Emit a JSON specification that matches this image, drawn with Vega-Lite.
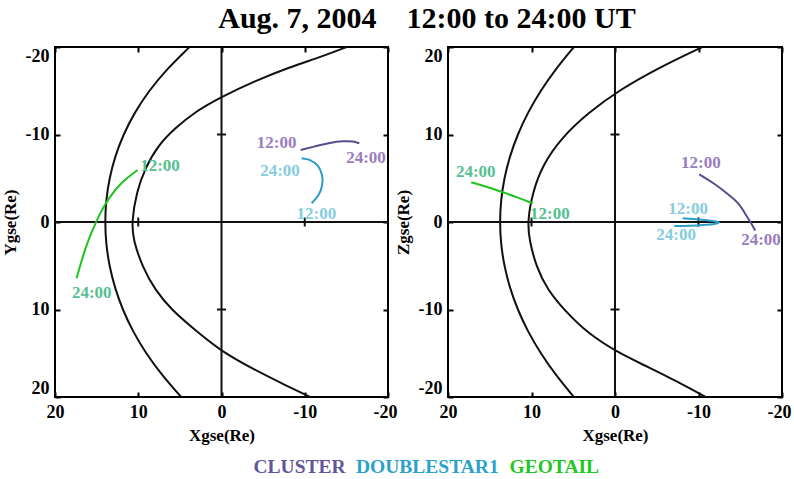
{
  "$schema": "https://vega.github.io/schema/vega-lite/v6.json",
  "padding": {"left": 0, "top": 4, "right": 0, "bottom": 2},
  "title": {"text": "Aug. 7, 2004\u00a0\u00a0\u00a0 12:00 to 24:00 UT", "anchor": "middle", "font": "Liberation Serif", "fontSize": 30, "fontWeight": "bold", "color": "#000", "dx": 31, "offset": 8},
  "bounds": "flush",
  "config": {
    "font": "Liberation Serif",
    "view": {"stroke": "#000", "strokeWidth": 2},
    "axis": {"labelFont": "Liberation Serif", "labelFontWeight": "bold", "labelFontSize": 18, "labelColor": "#000", "titleFont": "Liberation Serif", "titleFontWeight": "bold", "titleFontSize": 17, "titleColor": "#000", "grid": false, "domain": false, "tickColor": "#000", "tickWidth": 2, "tickSize": -5, "labelPadding": 11, "titlePadding": 6},
    "axisX": {"labelFlush": true, "labelFlushOffset": 9},
    "axisY": {"labelFlush": true},
    "legend": {"labelFont": "Liberation Serif", "labelFontWeight": "bold", "labelFontSize": 19.5},
    "concat": {"spacing": 60}
  },
  "datasets": {
    "curves": [
      {"panel": "XY", "curve": "bs", "i": 1, "x": 3.84, "v": -20},
      {"panel": "XY", "curve": "bs", "i": 2, "x": 6.54, "v": -17.5},
      {"panel": "XY", "curve": "bs", "i": 3, "x": 8.72, "v": -15},
      {"panel": "XY", "curve": "bs", "i": 4, "x": 10.45, "v": -12.5},
      {"panel": "XY", "curve": "bs", "i": 5, "x": 11.79, "v": -10},
      {"panel": "XY", "curve": "bs", "i": 6, "x": 12.79, "v": -7.5},
      {"panel": "XY", "curve": "bs", "i": 7, "x": 13.47, "v": -5},
      {"panel": "XY", "curve": "bs", "i": 8, "x": 13.87, "v": -2.5},
      {"panel": "XY", "curve": "bs", "i": 9, "x": 14.0, "v": 0},
      {"panel": "XY", "curve": "bs", "i": 10, "x": 13.87, "v": 2.5},
      {"panel": "XY", "curve": "bs", "i": 11, "x": 13.48, "v": 5},
      {"panel": "XY", "curve": "bs", "i": 12, "x": 12.82, "v": 7.5},
      {"panel": "XY", "curve": "bs", "i": 13, "x": 11.89, "v": 10},
      {"panel": "XY", "curve": "bs", "i": 14, "x": 10.65, "v": 12.5},
      {"panel": "XY", "curve": "bs", "i": 15, "x": 9.09, "v": 15},
      {"panel": "XY", "curve": "bs", "i": 16, "x": 7.16, "v": 17.5},
      {"panel": "XY", "curve": "bs", "i": 17, "x": 4.84, "v": 20},
      {"panel": "XY", "curve": "mp", "i": 1, "x": -15.03, "v": -20},
      {"panel": "XY", "curve": "mp", "i": 2, "x": -12.03, "v": -18.9},
      {"panel": "XY", "curve": "mp", "i": 3, "x": -8.03, "v": -17.64},
      {"panel": "XY", "curve": "mp", "i": 4, "x": -4.02, "v": -16.11},
      {"panel": "XY", "curve": "mp", "i": 5, "x": -0.02, "v": -14.32},
      {"panel": "XY", "curve": "mp", "i": 6, "x": 3.18, "v": -12.61},
      {"panel": "XY", "curve": "mp", "i": 7, "x": 5.59, "v": -10.7},
      {"panel": "XY", "curve": "mp", "i": 8, "x": 7.59, "v": -8.8},
      {"panel": "XY", "curve": "mp", "i": 9, "x": 9.19, "v": -6.13},
      {"panel": "XY", "curve": "mp", "i": 10, "x": 10.19, "v": -3.47},
      {"panel": "XY", "curve": "mp", "i": 11, "x": 10.8, "v": 0},
      {"panel": "XY", "curve": "mp", "i": 12, "x": 10.6, "v": 2.06},
      {"panel": "XY", "curve": "mp", "i": 13, "x": 9.51, "v": 5.1},
      {"panel": "XY", "curve": "mp", "i": 14, "x": 7.99, "v": 7.77},
      {"panel": "XY", "curve": "mp", "i": 15, "x": 5.99, "v": 10.06},
      {"panel": "XY", "curve": "mp", "i": 16, "x": 3.18, "v": 12.34},
      {"panel": "XY", "curve": "mp", "i": 17, "x": -0.02, "v": 14.82},
      {"panel": "XY", "curve": "mp", "i": 18, "x": -4.02, "v": 16.91},
      {"panel": "XY", "curve": "mp", "i": 19, "x": -7.23, "v": 18.44},
      {"panel": "XY", "curve": "mp", "i": 20, "x": -10.63, "v": 20},
      {"panel": "XZ", "curve": "bs", "i": 1, "x": 4.92, "v": 20},
      {"panel": "XZ", "curve": "bs", "i": 2, "x": 7.09, "v": 17.5},
      {"panel": "XZ", "curve": "bs", "i": 3, "x": 8.92, "v": 15},
      {"panel": "XZ", "curve": "bs", "i": 4, "x": 10.45, "v": 12.5},
      {"panel": "XZ", "curve": "bs", "i": 5, "x": 11.67, "v": 10},
      {"panel": "XZ", "curve": "bs", "i": 6, "x": 12.61, "v": 7.5},
      {"panel": "XZ", "curve": "bs", "i": 7, "x": 13.27, "v": 5},
      {"panel": "XZ", "curve": "bs", "i": 8, "x": 13.67, "v": 2.5},
      {"panel": "XZ", "curve": "bs", "i": 9, "x": 13.8, "v": 0},
      {"panel": "XZ", "curve": "bs", "i": 10, "x": 13.67, "v": -2.5},
      {"panel": "XZ", "curve": "bs", "i": 11, "x": 13.27, "v": -5},
      {"panel": "XZ", "curve": "bs", "i": 12, "x": 12.61, "v": -7.5},
      {"panel": "XZ", "curve": "bs", "i": 13, "x": 11.67, "v": -10},
      {"panel": "XZ", "curve": "bs", "i": 14, "x": 10.45, "v": -12.5},
      {"panel": "XZ", "curve": "bs", "i": 15, "x": 8.92, "v": -15},
      {"panel": "XZ", "curve": "bs", "i": 16, "x": 7.09, "v": -17.5},
      {"panel": "XZ", "curve": "bs", "i": 17, "x": 4.92, "v": -20},
      {"panel": "XZ", "curve": "mp", "i": 1, "x": -10.45, "v": 20},
      {"panel": "XZ", "curve": "mp", "i": 2, "x": -5.47, "v": 17.75},
      {"panel": "XZ", "curve": "mp", "i": 3, "x": -0.5, "v": 15.09},
      {"panel": "XZ", "curve": "mp", "i": 4, "x": 3.28, "v": 12.42},
      {"panel": "XZ", "curve": "mp", "i": 5, "x": 6.47, "v": 9.56},
      {"panel": "XZ", "curve": "mp", "i": 6, "x": 8.66, "v": 6.51},
      {"panel": "XZ", "curve": "mp", "i": 7, "x": 9.85, "v": 3.47},
      {"panel": "XZ", "curve": "mp", "i": 8, "x": 10.5, "v": 0},
      {"panel": "XZ", "curve": "mp", "i": 9, "x": 10.25, "v": -2.06},
      {"panel": "XZ", "curve": "mp", "i": 10, "x": 9.45, "v": -5.1},
      {"panel": "XZ", "curve": "mp", "i": 11, "x": 8.06, "v": -7.77},
      {"panel": "XZ", "curve": "mp", "i": 12, "x": 6.07, "v": -10.06},
      {"panel": "XZ", "curve": "mp", "i": 13, "x": 3.28, "v": -12.72},
      {"panel": "XZ", "curve": "mp", "i": 14, "x": -0.5, "v": -15.01},
      {"panel": "XZ", "curve": "mp", "i": 15, "x": -3.88, "v": -16.53},
      {"panel": "XZ", "curve": "mp", "i": 16, "x": -7.46, "v": -18.25},
      {"panel": "XZ", "curve": "mp", "i": 17, "x": -10.85, "v": -20}
    ],
    "orbits": [
      {"panel": "XY", "sat": "GEOTAIL", "seq": 1, "x": 10.07, "v": -5.94},
      {"panel": "XY", "sat": "GEOTAIL", "seq": 2, "x": 11.99, "v": -4.61},
      {"panel": "XY", "sat": "GEOTAIL", "seq": 3, "x": 13.59, "v": -2.7},
      {"panel": "XY", "sat": "GEOTAIL", "seq": 4, "x": 14.59, "v": -0.99},
      {"panel": "XY", "sat": "GEOTAIL", "seq": 5, "x": 15.25, "v": 0.4},
      {"panel": "XY", "sat": "GEOTAIL", "seq": 6, "x": 16.0, "v": 2.06},
      {"panel": "XY", "sat": "GEOTAIL", "seq": 7, "x": 16.8, "v": 4.34},
      {"panel": "XY", "sat": "GEOTAIL", "seq": 8, "x": 17.4, "v": 6.44},
      {"panel": "XY", "sat": "CLUSTER", "seq": 1, "x": -9.51, "v": -8.23},
      {"panel": "XY", "sat": "CLUSTER", "seq": 2, "x": -11.43, "v": -8.69},
      {"panel": "XY", "sat": "CLUSTER", "seq": 3, "x": -13.03, "v": -9.06},
      {"panel": "XY", "sat": "CLUSTER", "seq": 4, "x": -14.63, "v": -9.26},
      {"panel": "XY", "sat": "CLUSTER", "seq": 5, "x": -15.83, "v": -9.22},
      {"panel": "XY", "sat": "CLUSTER", "seq": 6, "x": -16.55, "v": -9.0},
      {"panel": "XY", "sat": "DOUBLESTAR1", "seq": 1, "x": -10.83, "v": -2.14},
      {"panel": "XY", "sat": "DOUBLESTAR1", "seq": 2, "x": -11.75, "v": -3.09},
      {"panel": "XY", "sat": "DOUBLESTAR1", "seq": 3, "x": -12.16, "v": -4.23},
      {"panel": "XY", "sat": "DOUBLESTAR1", "seq": 4, "x": -12.16, "v": -5.37},
      {"panel": "XY", "sat": "DOUBLESTAR1", "seq": 5, "x": -11.63, "v": -6.51},
      {"panel": "XY", "sat": "DOUBLESTAR1", "seq": 6, "x": -10.63, "v": -7.17},
      {"panel": "XY", "sat": "DOUBLESTAR1", "seq": 7, "x": -9.63, "v": -7.28},
      {"panel": "XZ", "sat": "GEOTAIL", "seq": 1, "x": 9.85, "v": 2.14},
      {"panel": "XZ", "sat": "GEOTAIL", "seq": 2, "x": 11.7, "v": 2.83},
      {"panel": "XZ", "sat": "GEOTAIL", "seq": 3, "x": 13.63, "v": 3.46},
      {"panel": "XZ", "sat": "GEOTAIL", "seq": 4, "x": 15.4, "v": 4.03},
      {"panel": "XZ", "sat": "GEOTAIL", "seq": 5, "x": 17.22, "v": 4.54},
      {"panel": "XZ", "sat": "CLUSTER", "seq": 1, "x": -10.09, "v": 5.45},
      {"panel": "XZ", "sat": "CLUSTER", "seq": 2, "x": -11.88, "v": 4.42},
      {"panel": "XZ", "sat": "CLUSTER", "seq": 3, "x": -13.67, "v": 3.09},
      {"panel": "XZ", "sat": "CLUSTER", "seq": 4, "x": -14.87, "v": 2.14},
      {"panel": "XZ", "sat": "CLUSTER", "seq": 5, "x": -15.67, "v": 0.8},
      {"panel": "XZ", "sat": "CLUSTER", "seq": 6, "x": -16.45, "v": -0.34},
      {"panel": "XZ", "sat": "CLUSTER", "seq": 7, "x": -16.78, "v": -0.99},
      {"panel": "XZ", "sat": "DOUBLESTAR1", "seq": 1, "x": -8.1, "v": 0.42},
      {"panel": "XZ", "sat": "DOUBLESTAR1", "seq": 2, "x": -10.09, "v": 0.29},
      {"panel": "XZ", "sat": "DOUBLESTAR1", "seq": 3, "x": -11.88, "v": 0.11},
      {"panel": "XZ", "sat": "DOUBLESTAR1", "seq": 4, "x": -12.72, "v": -0.06},
      {"panel": "XZ", "sat": "DOUBLESTAR1", "seq": 5, "x": -11.88, "v": -0.29},
      {"panel": "XZ", "sat": "DOUBLESTAR1", "seq": 6, "x": -10.09, "v": -0.4},
      {"panel": "XZ", "sat": "DOUBLESTAR1", "seq": 7, "x": -7.1, "v": -0.46}
    ],
    "labels": [
      {"panel": "XY", "sat": "GEOTAIL", "label": "12:00", "x": 7.39, "v": -6.43},
      {"panel": "XY", "sat": "GEOTAIL", "label": "24:00", "x": 15.59, "v": 8.15},
      {"panel": "XY", "sat": "CLUSTER", "label": "12:00", "x": -6.63, "v": -9.06},
      {"panel": "XY", "sat": "CLUSTER", "label": "24:00", "x": -17.36, "v": -7.28},
      {"panel": "XY", "sat": "DOUBLESTAR1", "label": "24:00", "x": -7.03, "v": -5.86},
      {"panel": "XY", "sat": "DOUBLESTAR1", "label": "12:00", "x": -11.39, "v": -0.88},
      {"panel": "XZ", "sat": "GEOTAIL", "label": "24:00", "x": 16.68, "v": 5.75},
      {"panel": "XZ", "sat": "GEOTAIL", "label": "12:00", "x": 7.8, "v": 0.88},
      {"panel": "XZ", "sat": "CLUSTER", "label": "12:00", "x": -10.29, "v": 6.71},
      {"panel": "XZ", "sat": "CLUSTER", "label": "24:00", "x": -17.49, "v": -2.06},
      {"panel": "XZ", "sat": "DOUBLESTAR1", "label": "12:00", "x": -8.75, "v": 1.49},
      {"panel": "XZ", "sat": "DOUBLESTAR1", "label": "24:00", "x": -7.32, "v": -1.49}
    ],
    "zero": [{"z": 0}],
    "crossticks": [{"t": -10}, {"t": 10}]
  },
  "resolve": {"scale": {"stroke": "shared", "fill": "shared"}},
  "hconcat": [
    {
      "width": 333,
      "height": 350,
      "resolve": {"axis": {"x": "independent", "y": "independent"}},
      "layer": [
        {
          "data": {"name": "curves"},
          "transform": [{"filter": "datum.panel === 'XY'"}],
          "mark": {"type": "line", "color": "#111", "strokeWidth": 2, "interpolate": "basis"},
          "encoding": {
            "x": {"field": "x", "type": "quantitative", "scale": {"domain": [-20, 20], "reverse": true}, "axis": {"orient": "bottom", "values": [-20, -10, 0, 10, 20], "labelExpr": "'' + datum.value", "title": "Xgse(Re)"}},
            "y": {"field": "v", "type": "quantitative", "scale": {"domain": [-20, 20], "reverse": true}, "axis": {"orient": "left", "values": [-20, -10, 0, 10, 20], "labelExpr": "'' + datum.value", "title": "Ygse(Re)"}},
            "detail": {"field": "curve"},
            "order": {"field": "i", "type": "quantitative"}
          }
        },
        {
          "data": {"name": "zero"},
          "mark": {"type": "rule", "color": "#111", "strokeWidth": 2},
          "encoding": {
            "x": {"field": "z", "type": "quantitative", "scale": {"domain": [-20, 20], "reverse": true}, "axis": {"orient": "top", "values": [-20, -10, 0, 10, 20], "labels": false, "title": null}}
          }
        },
        {
          "data": {"name": "zero"},
          "mark": {"type": "rule", "color": "#111", "strokeWidth": 2},
          "encoding": {
            "y": {"field": "z", "type": "quantitative", "scale": {"domain": [-20, 20], "reverse": true}, "axis": {"orient": "right", "values": [-20, -10, 0, 10, 20], "labels": false, "title": null}}
          }
        },
        {
          "data": {"name": "crossticks"},
          "mark": {"type": "tick", "orient": "vertical", "size": 9, "thickness": 2, "color": "#111", "opacity": 1},
          "encoding": {
            "x": {"field": "t", "type": "quantitative", "scale": {"domain": [-20, 20], "reverse": true}, "axis": null},
            "y": {"datum": 0, "type": "quantitative", "scale": {"domain": [-20, 20], "reverse": true}, "axis": null}
          }
        },
        {
          "data": {"name": "crossticks"},
          "mark": {"type": "tick", "orient": "horizontal", "size": 9, "thickness": 2, "color": "#111", "opacity": 1},
          "encoding": {
            "x": {"datum": 0, "type": "quantitative", "scale": {"domain": [-20, 20], "reverse": true}, "axis": null},
            "y": {"field": "t", "type": "quantitative", "scale": {"domain": [-20, 20], "reverse": true}, "axis": null}
          }
        },
        {
          "data": {"name": "orbits"},
          "transform": [{"filter": "datum.panel === 'XY'"}],
          "mark": {"type": "line", "strokeWidth": 2, "interpolate": "basis"},
          "encoding": {
            "x": {"field": "x", "type": "quantitative", "scale": {"domain": [-20, 20], "reverse": true}, "axis": null},
            "y": {"field": "v", "type": "quantitative", "scale": {"domain": [-20, 20], "reverse": true}, "axis": null},
            "stroke": {"field": "sat", "type": "nominal", "scale": {"domain": ["CLUSTER", "DOUBLESTAR1", "GEOTAIL"], "range": ["#5b4a8e", "#2b9dc8", "#1ec41e"]}, "legend": {"orient": "none", "legendX": 200, "legendY": 410, "direction": "horizontal", "title": null, "symbolOpacity": 0, "symbolSize": 0, "symbolStrokeWidth": 0, "labelOffset": -21, "columnPadding": 9.5, "labelFont": "Liberation Serif", "labelFontWeight": "bold", "labelFontSize": 19.5, "labelColor": {"expr": "datum.label == 'CLUSTER' ? '#63559a' : datum.label == 'DOUBLESTAR1' ? '#2ba2c8' : '#1ec81e'"}}},
            "order": {"field": "seq", "type": "quantitative"}
          }
        },
        {
          "data": {"name": "labels"},
          "transform": [{"filter": "datum.panel === 'XY'"}],
          "mark": {"type": "text", "font": "Liberation Serif", "fontWeight": "bold", "fontSize": 17},
          "encoding": {
            "x": {"field": "x", "type": "quantitative", "scale": {"domain": [-20, 20], "reverse": true}, "axis": null},
            "y": {"field": "v", "type": "quantitative", "scale": {"domain": [-20, 20], "reverse": true}, "axis": null},
            "text": {"field": "label"},
            "fill": {"field": "sat", "type": "nominal", "scale": {"domain": ["CLUSTER", "DOUBLESTAR1", "GEOTAIL"], "range": ["#9a7dc0", "#86cde0", "#55c08f"]}, "legend": null}
          }
        }
      ]
    },
    {
      "width": 334,
      "height": 350,
      "resolve": {"axis": {"x": "independent", "y": "independent"}},
      "layer": [
        {
          "data": {"name": "curves"},
          "transform": [{"filter": "datum.panel === 'XZ'"}],
          "mark": {"type": "line", "color": "#111", "strokeWidth": 2, "interpolate": "basis"},
          "encoding": {
            "x": {"field": "x", "type": "quantitative", "scale": {"domain": [-20, 20], "reverse": true}, "axis": {"orient": "bottom", "values": [-20, -10, 0, 10, 20], "labelExpr": "'' + datum.value", "title": "Xgse(Re)"}},
            "y": {"field": "v", "type": "quantitative", "scale": {"domain": [-20, 20]}, "axis": {"orient": "left", "values": [-20, -10, 0, 10, 20], "labelExpr": "'' + datum.value", "title": "Zgse(Re)"}},
            "detail": {"field": "curve"},
            "order": {"field": "i", "type": "quantitative"}
          }
        },
        {
          "data": {"name": "zero"},
          "mark": {"type": "rule", "color": "#111", "strokeWidth": 2},
          "encoding": {
            "x": {"field": "z", "type": "quantitative", "scale": {"domain": [-20, 20], "reverse": true}, "axis": {"orient": "top", "values": [-20, -10, 0, 10, 20], "labels": false, "title": null}}
          }
        },
        {
          "data": {"name": "zero"},
          "mark": {"type": "rule", "color": "#111", "strokeWidth": 2},
          "encoding": {
            "y": {"field": "z", "type": "quantitative", "scale": {"domain": [-20, 20]}, "axis": {"orient": "right", "values": [-20, -10, 0, 10, 20], "labels": false, "title": null}}
          }
        },
        {
          "data": {"name": "crossticks"},
          "mark": {"type": "tick", "orient": "vertical", "size": 9, "thickness": 2, "color": "#111", "opacity": 1},
          "encoding": {
            "x": {"field": "t", "type": "quantitative", "scale": {"domain": [-20, 20], "reverse": true}, "axis": null},
            "y": {"datum": 0, "type": "quantitative", "scale": {"domain": [-20, 20]}, "axis": null}
          }
        },
        {
          "data": {"name": "crossticks"},
          "mark": {"type": "tick", "orient": "horizontal", "size": 9, "thickness": 2, "color": "#111", "opacity": 1},
          "encoding": {
            "x": {"datum": 0, "type": "quantitative", "scale": {"domain": [-20, 20], "reverse": true}, "axis": null},
            "y": {"field": "t", "type": "quantitative", "scale": {"domain": [-20, 20]}, "axis": null}
          }
        },
        {
          "data": {"name": "orbits"},
          "transform": [{"filter": "datum.panel === 'XZ'"}],
          "mark": {"type": "line", "strokeWidth": 2, "interpolate": "basis"},
          "encoding": {
            "x": {"field": "x", "type": "quantitative", "scale": {"domain": [-20, 20], "reverse": true}, "axis": null},
            "y": {"field": "v", "type": "quantitative", "scale": {"domain": [-20, 20]}, "axis": null},
            "stroke": {"field": "sat", "type": "nominal"},
            "order": {"field": "seq", "type": "quantitative"}
          }
        },
        {
          "data": {"name": "labels"},
          "transform": [{"filter": "datum.panel === 'XZ'"}],
          "mark": {"type": "text", "font": "Liberation Serif", "fontWeight": "bold", "fontSize": 17},
          "encoding": {
            "x": {"field": "x", "type": "quantitative", "scale": {"domain": [-20, 20], "reverse": true}, "axis": null},
            "y": {"field": "v", "type": "quantitative", "scale": {"domain": [-20, 20]}, "axis": null},
            "text": {"field": "label"},
            "fill": {"field": "sat", "type": "nominal", "legend": null}
          }
        }
      ]
    }
  ]
}
